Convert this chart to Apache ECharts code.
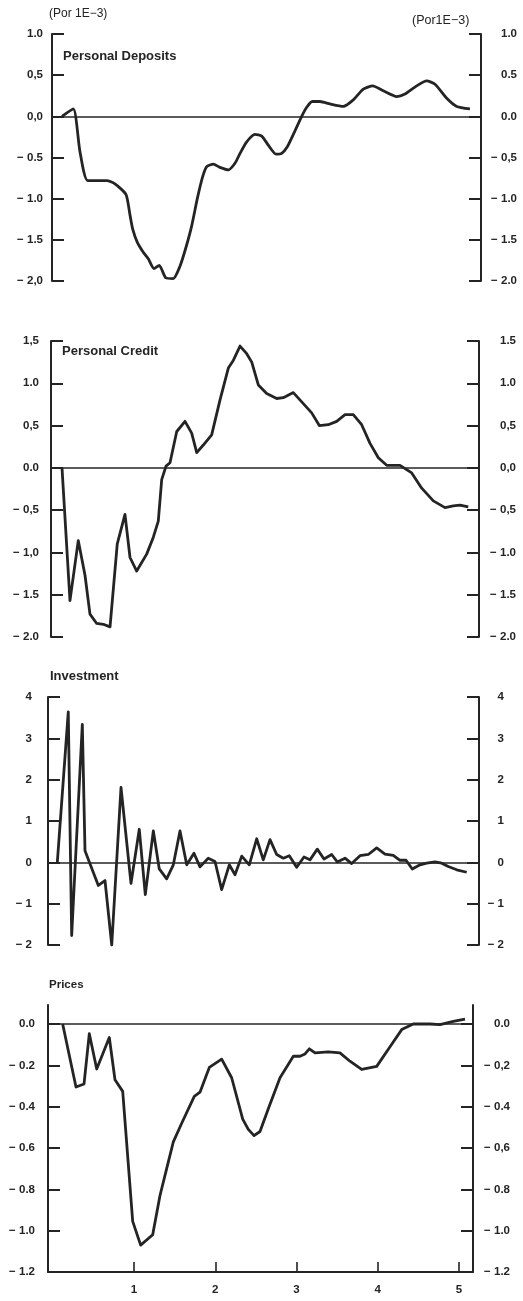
<!DOCTYPE html>
<html>
<head>
<meta charset="utf-8">
<script src="https://cdn.jsdelivr.net/npm/echarts@6/dist/echarts.min.js"></script>
<style>
html,body{margin:0;padding:0;background:#fff;}
#chart{width:523px;height:1301px;}
</style>
</head>
<body>
<div id="chart"></div>
<script>
// ---- Data (x in years, values per 1E-3) ----
const depositsT = [0.114,0.253,0.335,0.430,0.664,0.766,0.902,0.951,0.984,1.041,1.114,1.176,1.246,1.311,1.390,1.484,1.566,1.640,1.710,1.779,1.846,1.895,1.976,2.058,2.161,2.243,2.305,2.387,2.489,2.572,2.653,2.748,2.818,2.887,2.961,3.064,3.126,3.194,3.289,3.412,3.576,3.699,3.822,3.938,4.068,4.233,4.335,4.479,4.602,4.705,4.849,4.972,5.135];
const depositsV = [0,0.09,-0.43,-0.78,-0.78,-0.82,-0.95,-1.20,-1.37,-1.53,-1.65,-1.73,-1.85,-1.81,-1.96,-1.97,-1.82,-1.59,-1.33,-1.00,-0.73,-0.61,-0.58,-0.62,-0.65,-0.57,-0.45,-0.31,-0.22,-0.24,-0.35,-0.46,-0.45,-0.37,-0.22,0,0.11,0.18,0.18,0.15,0.12,0.20,0.33,0.37,0.31,0.24,0.27,0.37,0.43,0.39,0.22,0.12,0.09];

const creditT = [0.114,0.212,0.314,0.397,0.458,0.541,0.622,0.705,0.794,0.889,0.951,1.033,1.156,1.238,1.299,1.341,1.394,1.443,1.526,1.628,1.710,1.772,1.853,1.956,2.058,2.161,2.222,2.305,2.387,2.449,2.530,2.633,2.756,2.838,2.961,3.084,3.187,3.281,3.391,3.495,3.597,3.699,3.802,3.905,4.007,4.110,4.274,4.418,4.541,4.684,4.828,4.930,5.012,5.114];
const creditV = [0,-1.57,-0.86,-1.27,-1.73,-1.84,-1.85,-1.88,-0.90,-0.55,-1.06,-1.22,-1.02,-0.82,-0.63,-0.14,0.02,0.06,0.43,0.55,0.41,0.18,0.27,0.39,0.80,1.18,1.27,1.44,1.35,1.25,0.98,0.88,0.82,0.83,0.89,0.76,0.65,0.50,0.51,0.55,0.63,0.63,0.51,0.29,0.12,0.03,0.03,-0.06,-0.24,-0.39,-0.47,-0.45,-0.44,-0.46];

const investmentT = [0.056,0.191,0.233,0.364,0.397,0.561,0.643,0.726,0.840,0.963,1.065,1.139,1.238,1.311,1.402,1.484,1.566,1.649,1.738,1.812,1.914,1.997,2.079,2.173,2.243,2.326,2.419,2.510,2.591,2.674,2.756,2.838,2.911,3.002,3.092,3.166,3.256,3.338,3.433,3.502,3.597,3.679,3.782,3.884,3.987,4.089,4.191,4.274,4.348,4.425,4.520,4.602,4.705,4.787,4.868,4.972,5.095];
const investmentV = [0,3.64,-1.77,3.34,0.28,-0.56,-0.44,-2.0,1.81,-0.51,0.80,-0.78,0.76,-0.16,-0.40,-0.06,0.76,-0.06,0.22,-0.11,0.10,0.02,-0.66,-0.06,-0.30,0.15,-0.06,0.57,0.06,0.55,0.19,0.10,0.16,-0.12,0.13,0.06,0.32,0.08,0.19,0.01,0.10,-0.03,0.16,0.19,0.35,0.20,0.17,0.05,0.05,-0.16,-0.06,-0.02,0.01,-0.02,-0.10,-0.18,-0.24];

const pricesT = [0.122,0.286,0.385,0.450,0.541,0.696,0.766,0.861,0.984,1.082,1.230,1.320,1.402,1.484,1.587,1.742,1.812,1.927,2.079,2.202,2.338,2.407,2.477,2.551,2.653,2.797,2.961,3.043,3.105,3.158,3.228,3.391,3.535,3.658,3.802,3.987,4.151,4.295,4.437,4.643,4.766,4.930,5.074];
const pricesV = [0,-0.305,-0.29,-0.047,-0.218,-0.065,-0.27,-0.326,-0.955,-1.07,-1.02,-0.83,-0.70,-0.57,-0.48,-0.35,-0.33,-0.21,-0.17,-0.26,-0.46,-0.51,-0.54,-0.52,-0.41,-0.26,-0.156,-0.156,-0.145,-0.12,-0.14,-0.135,-0.14,-0.18,-0.22,-0.205,-0.11,-0.027,0,0,-0.003,0.013,0.024];

// ---- Tick values and labels ----
const depTicks = [1,0.5,0,-0.5,-1,-1.5,-2];
const depLeftLabels = ['1.0','0,5','0,0','− 0.5','− 1.0','− 1.5','− 2,0'];
const depRightLabels = ['1.0','0.5','0.0','− 0,5','− 1.0','− 1.5','− 2.0'];
const credTicks = [1.5,1,0.5,0,-0.5,-1,-1.5,-2];
const credLeftLabels = ['1,5','1.0','0,5','0.0','− 0,5','− 1,0','− 1.5','− 2.0'];
const credRightLabels = ['1.5','1.0','0,5','0,0','− 0,5','− 1.0','− 1.5','− 2.0'];
const invTicks = [4,3,2,1,0,-1,-2];
const invLabels = ['4','3','2','1','0','− 1','− 2'];
const priceTicks = [0,-0.2,-0.4,-0.6,-0.8,-1.0,-1.2];
const priceLeftLabels = ['0.0','− 0.2','− 0.4','− 0.6','− 0.8','− 1.0','− 1.2'];
const priceRightLabels = ['0.0','− 0,2','− 0.4','− 0,6','− 0.8','− 1.0','− 1.2'];
const xTicks = [1,2,3,4,5];
const xLabels = ['1','2','3','4','5'];

const titles = ['Personal Deposits','Personal Credit','Investment','Prices'];
const unitLeft = '(Por 1E−3)';
const unitRight = '(Por1E−3)';

// ---- Layout ----
const INK = '#242424';
const FONT = '"Liberation Sans", Arial, sans-serif';
const pxPerYear = 81.25, x0px = 52.75;
function xr(px){ return (px - x0px) / pxPerYear; }

const panels = [
  {t: depositsT, v: depositsV, ticks: depTicks, L: depLeftLabels, R: depRightLabels, left: 52, right: 481, top: 34, height: 247, min: -2, max: 1, lm: 9, rm: 36, smooth: 0.2},
  {t: creditT, v: creditV, ticks: credTicks, L: credLeftLabels, R: credRightLabels, left: 51, right: 479, top: 341, height: 296, min: -2, max: 1.5, lm: 12, rm: 37, smooth: false},
  {t: investmentT, v: investmentV, ticks: invTicks, L: invLabels, R: invLabels, left: 48, right: 479, top: 697, height: 248, min: -2, max: 4, lm: 16, rm: 25, smooth: false},
  {t: pricesT, v: pricesV, ticks: priceTicks, L: priceLeftLabels, R: priceRightLabels, left: 48, right: 473, top: 1005, height: 267, min: -1.2, max: 0.092, lm: 13, rm: 37, smooth: false}
];

const grid = [], xAxis = [], yAxis = [], series = [];
panels.forEach((p, i) => {
  grid.push({left: p.left, top: p.top, width: p.right - p.left, height: p.height, containLabel: false, outerBoundsMode: 'none'});
  const isLast = i === panels.length - 1;
  xAxis.push({
    type: 'value', gridIndex: i, min: xr(p.left), max: xr(p.right),
    show: isLast,
    axisLine: {show: isLast, onZero: false, lineStyle: {color: INK, width: 2}},
    axisTick: {show: isLast, inside: true, length: 10, customValues: xTicks, lineStyle: {color: INK, width: 1.6}},
    axisLabel: {show: isLast, customValues: xTicks, margin: 12, color: INK, fontSize: 11.5, fontWeight: 'bold', fontFamily: FONT,
      formatter: (val) => xLabels[xTicks.indexOf(val)] ?? ''},
    splitLine: {show: false}
  });
  ['left','right'].forEach((side) => {
    const labels = side === 'left' ? p.L : p.R;
    yAxis.push({
      type: 'value', gridIndex: i, position: side, min: p.min, max: p.max,
      axisLine: {show: true, onZero: false, lineStyle: {color: INK, width: 2}},
      axisTick: {show: true, inside: true, length: 12, customValues: p.ticks, lineStyle: {color: INK, width: 2}},
      axisLabel: {customValues: p.ticks, margin: side === 'left' ? p.lm : p.rm, align: 'right',
        color: INK, fontSize: 11.5, fontWeight: 'bold', fontFamily: FONT,
        formatter: (val) => { const k = p.ticks.indexOf(val); return k >= 0 ? labels[k] : ''; }},
      splitLine: {show: false}
    });
  });
  series.push({
    type: 'line', xAxisIndex: i, yAxisIndex: i * 2,
    data: p.t.map((t, k) => [t, p.v[k]]),
    showSymbol: false, symbol: 'none', smooth: p.smooth,
    lineStyle: {color: INK, width: 2.8, join: 'round'},
    markLine: {silent: true, symbol: 'none', label: {show: false},
      lineStyle: {color: INK, width: 1.5, type: 'solid'}, data: [{yAxis: 0}]},
    animation: false
  });
});

const titleStyle = (size, weight) => ({color: INK, fontSize: size, fontWeight: weight, fontFamily: FONT});
const title = [
  {text: titles[0], left: 63, top: 50, textStyle: titleStyle(13, 'bold')},
  {text: titles[1], left: 62, top: 345, textStyle: titleStyle(13, 'bold')},
  {text: titles[2], left: 50, top: 670, textStyle: titleStyle(13, 'bold')},
  {text: titles[3], left: 49, top: 979, textStyle: titleStyle(11.5, 'bold')},
  {text: unitLeft, left: 49, top: 8, textStyle: titleStyle(12, 'normal')},
  {text: unitRight, left: 412, top: 14, textStyle: titleStyle(12.5, 'normal')}
].map(t => Object.assign({padding: 0}, t));

const chart = echarts.init(document.getElementById('chart'), null, {renderer: 'canvas'});
chart.setOption({animation: false, backgroundColor: '#fff', title, grid, xAxis, yAxis, series});
</script>
</body>
</html>
